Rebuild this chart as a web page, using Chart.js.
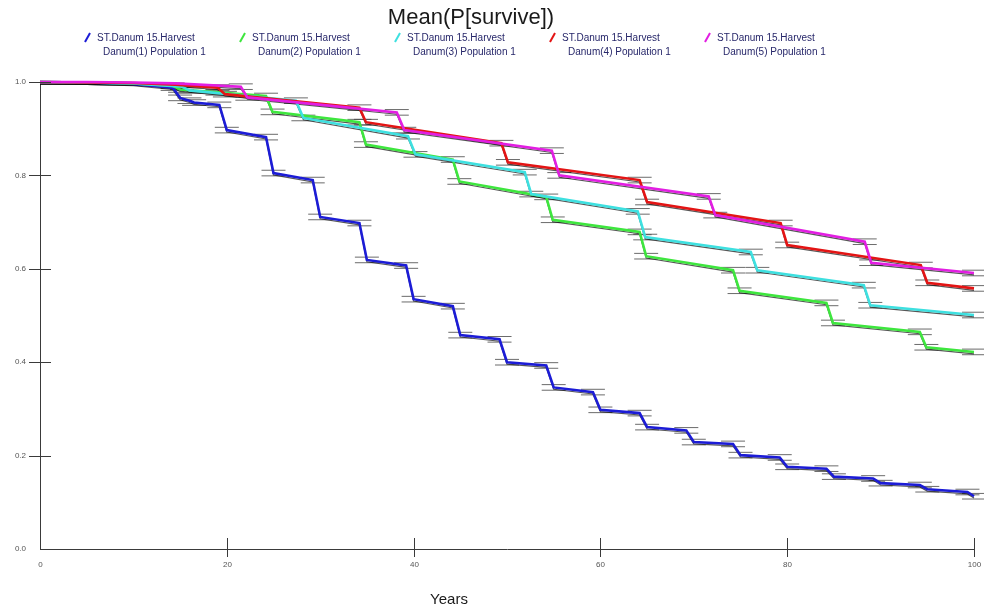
<!DOCTYPE html>
<html lang="en">
<head>
  <meta charset="UTF-8">
  <title>Mean(P[survive])</title>
  <style>
    body {
      margin: 0;
      background: #fff;
    }
    .chart-box {
      width: 984px;
      height: 612px;
      position: relative;
    }
  </style>
</head>
<body>
  <div class="chart-box">
    <canvas id="surviveChart"></canvas>
  </div>

  <script src="https://cdn.jsdelivr.net/npm/chart.js"></script>
  <script>
    // Mean survival probability per scenario, stepped at each harvest
    const seriesNames = [
      'Danum(1) Population 1',
      'Danum(2) Population 1',
      'Danum(3) Population 1',
      'Danum(4) Population 1',
      'Danum(5) Population 1'
    ];
    const seriesHeader = 'ST.Danum 15.Harvest';

    const years1 = [0, 5, 10, 14.2, 15, 16, 16.5, 19.2, 20, 24.2, 25, 29.2, 30, 34.2, 35, 39.2, 40, 44.2, 45, 49.2, 50,
                    54.2, 55, 59.2, 60, 64.2, 65, 69.2, 70, 74.2, 75, 79.2, 80, 84.2, 85, 89.2, 90, 94.2, 95, 99.3, 100];
    const surv1  = [1.0, 0.999, 0.996, 0.988, 0.966, 0.96, 0.956, 0.951, 0.897, 0.882, 0.805, 0.79, 0.711, 0.698, 0.619, 0.607,
                    0.535, 0.52, 0.458, 0.449, 0.40, 0.393, 0.346, 0.336, 0.298, 0.291, 0.261, 0.254, 0.229, 0.225, 0.201,
                    0.196, 0.176, 0.172, 0.155, 0.151, 0.141, 0.137, 0.128, 0.122, 0.113];

    const years2 = [0, 5, 10, 14.2, 15, 19, 24.2, 24.9, 34.2, 34.9, 44.2, 44.9, 54.2, 54.9, 64.2, 64.9, 74.2, 74.9, 84.2, 84.9, 94.2, 94.9, 100];
    const surv2  = [1.0, 0.999, 0.997, 0.992, 0.984, 0.978, 0.970, 0.936, 0.914, 0.866, 0.834, 0.787, 0.754, 0.705, 0.679, 0.627,
                    0.597, 0.553, 0.527, 0.484, 0.465, 0.432, 0.422];

    const years3 = [0, 5, 10, 15.2, 16, 27.4, 28.2, 39.4, 40.2, 51.9, 52.6, 64.0, 64.8, 76.1, 76.8, 88.2, 88.9, 100];
    const surv3  = [1.0, 0.999, 0.997, 0.99, 0.982, 0.96, 0.923, 0.884, 0.845, 0.807, 0.76, 0.723, 0.668, 0.636, 0.597, 0.565, 0.522, 0.501];

    const years4 = [0, 5, 10, 14.5, 19.0, 19.8, 34.2, 34.9, 49.4, 50.1, 64.2, 65.0, 79.3, 80.0, 94.3, 95.0, 100];
    const surv4  = [1.0, 0.999, 0.998, 0.994, 0.988, 0.974, 0.945, 0.914, 0.869, 0.828, 0.79, 0.743, 0.698, 0.651, 0.608, 0.57, 0.558];

    const years5 = [0, 5, 10, 14.5, 21.5, 22.2, 38.2, 39.0, 54.8, 55.6, 71.6, 72.3, 88.3, 89.0, 100];
    const surv5  = [1.0, 1.0, 0.999, 0.997, 0.99, 0.967, 0.935, 0.897, 0.853, 0.80, 0.755, 0.715, 0.658, 0.613, 0.591];

    const seriesColors = ['#1c1cd6', '#3ee63e', '#3ee0e0', '#e31414', '#e21ee2'];

    const xTicks = [0, 20, 40, 60, 80, 100];
    const yTicks = [0.0, 0.2, 0.4, 0.6, 0.8, 1.0];

    const allYears = [years1, years2, years3, years4, years5];
    const allSurv = [surv1, surv2, surv3, surv4, surv5];

    const tickFont = '8px "Liberation Sans", Arial, sans-serif';

    const toPoints = (xs, ys, dy) => xs.map((x, i) => ({ x: x, y: ys[i] + (dy || 0) }));

    // small confidence-bar dashes at each step end (once harvesting has started)
    const ciDashes = (xs, ys) => {
      const pts = [];
      xs.forEach((x, i) => {
        if (x < 14 || ys[i] > 0.993) return;
        pts.push({ x: x, y: ys[i] + 0.006 });
        pts.push({ x: x, y: ys[i] - 0.006 });
      });
      return pts;
    };

    const datasets = [];
    allYears.forEach((xs, i) => {
      datasets.push({
        label: 'ci' + (i + 1),
        data: ciDashes(xs, allSurv[i]),
        showLine: false,
        pointStyle: 'line',
        pointRadius: 12,
        pointHoverRadius: 12,
        borderColor: 'rgba(70,70,70,0.8)',
        pointBorderWidth: 1,
        clip: 14,
        order: 20
      });
      datasets.push({
        label: 'lo' + (i + 1),
        data: toPoints(xs, allSurv[i], -0.004),
        showLine: true,
        borderColor: 'rgba(15,15,15,0.7)',
        borderWidth: 1.2,
        pointRadius: 0,
        clip: 4,
        order: 15 - i
      });
    });
    allYears.forEach((xs, i) => {
      datasets.push({
        label: seriesNames[i],
        data: toPoints(xs, allSurv[i]),
        showLine: true,
        borderColor: seriesColors[i],
        borderWidth: 2.6,
        pointRadius: 0,
        clip: 4,
        order: 5 - i
      });
    });

    // Title, legend, "Years" label, x tick labels and the tick marks that cross the axes
    const frame = {
      id: 'frame',
      afterDraw(chart) {
        const ctx = chart.ctx;
        const xs = chart.scales.x, ys = chart.scales.y;
        ctx.save();

        ctx.strokeStyle = '#3a3a3a';
        ctx.lineWidth = 1;
        ys.ticks.forEach(t => {
          if (t.value === 0) return;
          const py = Math.round(ys.getPixelForValue(t.value)) + 0.5;
          ctx.beginPath();
          ctx.moveTo(xs.left - 11, py);
          ctx.lineTo(xs.left + 11, py);
          ctx.stroke();
        });
        ctx.fillStyle = '#555';
        ctx.font = tickFont;
        ctx.textAlign = 'center';
        ctx.textBaseline = 'middle';
        xTicks.forEach(v => {
          const px = Math.round(xs.getPixelForValue(v)) + 0.5;
          if (v !== 0) {
            ctx.beginPath();
            ctx.moveTo(px, ys.bottom - 11);
            ctx.lineTo(px, ys.bottom + 8);
            ctx.stroke();
          }
          ctx.fillText(String(v), px, ys.bottom + 16);
        });

        ctx.fillStyle = '#1a1a1a';
        ctx.font = '22px "Liberation Sans", Arial, sans-serif';
        ctx.fillText('Mean(P[survive])', 471, 18);

        ctx.font = '15px "Liberation Sans", Arial, sans-serif';
        ctx.fillText('Years', 449, 600);

        // legend: coloured slash + two text lines per scenario
        ctx.textAlign = 'left';
        ctx.font = '10px "Liberation Sans", Arial, sans-serif';
        seriesNames.forEach((name, i) => {
          const lx = 88 + i * 155;
          ctx.strokeStyle = seriesColors[i];
          ctx.lineWidth = 2;
          ctx.beginPath();
          ctx.moveTo(lx - 3, 42);
          ctx.lineTo(lx + 2, 33);
          ctx.stroke();
          ctx.fillStyle = '#27276a';
          ctx.fillText(seriesHeader, lx + 9, 38);
          ctx.fillText(name, lx + 15, 52);
        });
        ctx.restore();
      }
    };

    const ctx = document.getElementById('surviveChart').getContext('2d');
    new Chart(ctx, {
      type: 'scatter',
      data: { datasets: datasets },
      options: {
        responsive: true,
        maintainAspectRatio: false,
        animation: false,
        layout: { autoPadding: false, padding: { top: 82, right: 10, left: 0, bottom: 0 } },
        plugins: {
          legend: { display: false },
          title: { display: false },
          tooltip: { enabled: false }
        },
        elements: { line: { tension: 0 } },
        scales: {
          x: {
            type: 'linear',
            min: 0,
            max: 100,
            afterFit: s => { s.height = 63; },
            afterBuildTicks: s => { s.ticks = xTicks.map(v => ({ value: v })); },
            grid: { display: false },
            border: { display: true, color: '#3a3a3a', width: 1 },
            ticks: { display: false }
          },
          y: {
            type: 'linear',
            min: 0,
            max: 1,
            afterFit: s => { s.width = 40; },
            afterBuildTicks: s => { s.ticks = yTicks.map(v => ({ value: v })); },
            grid: { display: false },
            border: { display: true, color: '#3a3a3a', width: 1 },
            ticks: {
              padding: 6,
              color: '#555',
              font: { size: 8, family: '"Liberation Sans", Arial, sans-serif' },
              callback: v => v.toFixed(1)
            }
          }
        }
      },
      plugins: [frame]
    });
  </script>
</body>
</html>
